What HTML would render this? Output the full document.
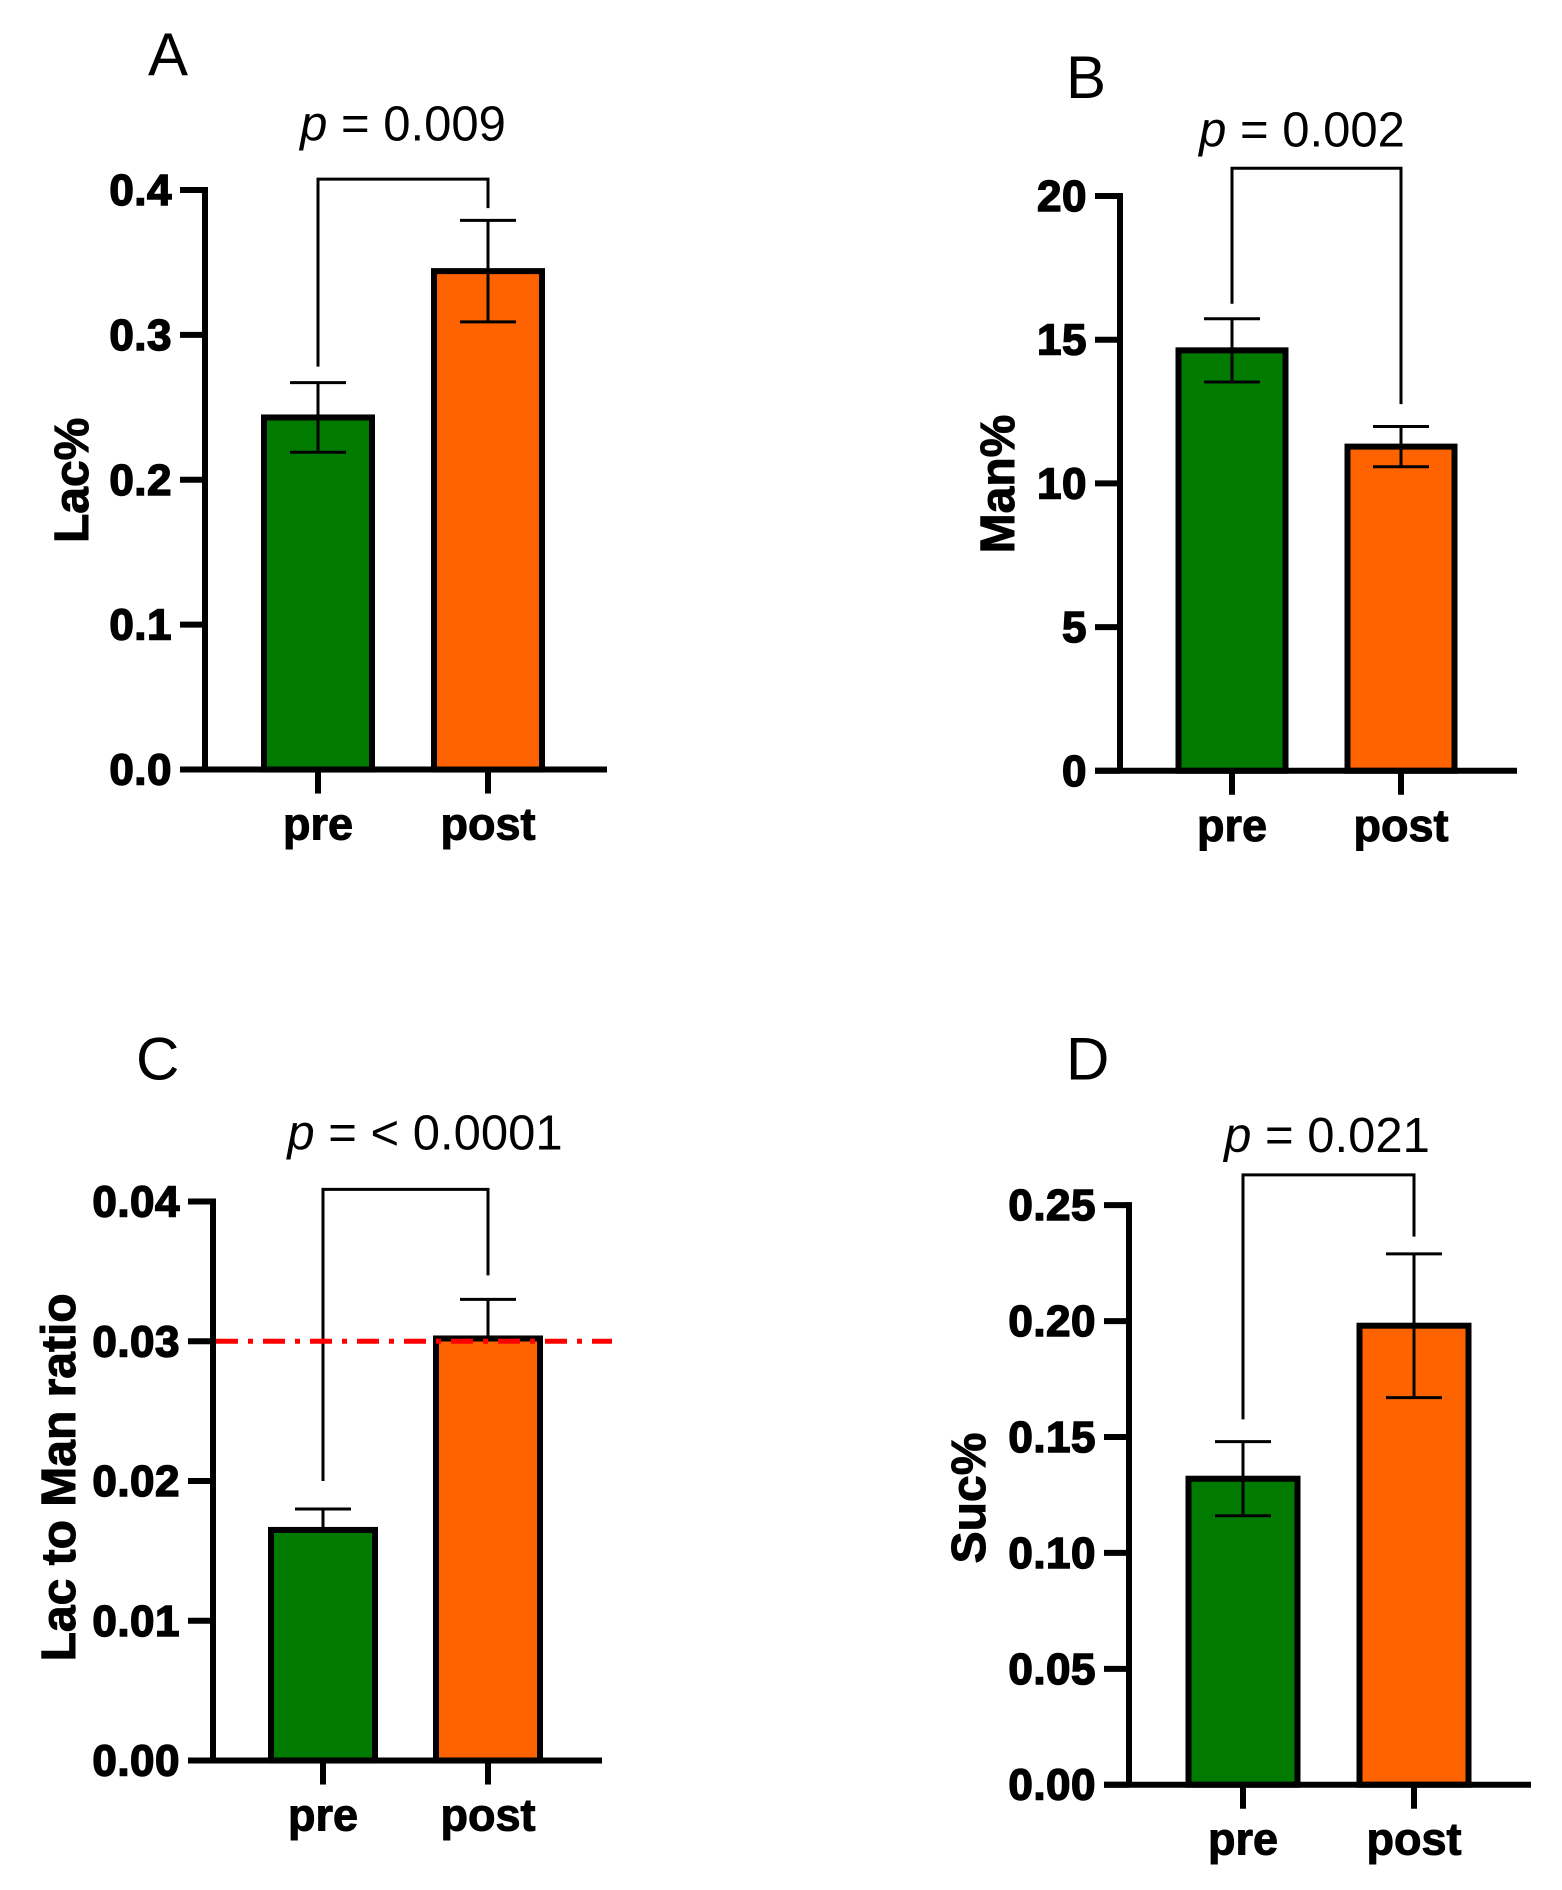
<!DOCTYPE html>
<html><head><meta charset="utf-8"><style>
html,body{margin:0;padding:0;background:#fff}
svg{display:block}
text{font-family:"Liberation Sans",Arial,sans-serif}
</style></head>
<body>
<svg id="fig" width="1562" height="1890" viewBox="0 0 1562 1890" xmlns="http://www.w3.org/2000/svg"><g id="root"></g></svg>
<script>
const categories = ["pre", "post"];
const lacValues = [0.243, 0.344];
const lacErrors = [0.024, 0.035];
const lacTicks = ["0.0", "0.1", "0.2", "0.3", "0.4"];
const manValues = [14.63, 11.28];
const manErrors = [1.1, 0.7];
const manTicks = ["0", "5", "10", "15", "20"];
const ratioValues = [0.0165, 0.0302];
const ratioErrors = [0.0015, 0.0028];
const ratioTicks = ["0.00", "0.01", "0.02", "0.03", "0.04"];
const ratioRefLine = [0.03];
const sucValues = [0.132, 0.198];
const sucErrors = [0.016, 0.031];
const sucTicks = ["0.00", "0.05", "0.10", "0.15", "0.20", "0.25"];
const pLabels = ["= 0.009", "= 0.002", "= < 0.0001", "= 0.021"];

const NS = "http://www.w3.org/2000/svg";
const svg = document.getElementById("root");
const colors = ["#007a00", "#ff6300"];
const SY = 1.21;
function mk(tag, attrs, parent) {
  const e = document.createElementNS(NS, tag);
  for (const k in attrs) e.setAttribute(k, attrs[k]);
  (parent || svg).appendChild(e);
  return e;
}

function panel(c) {
  const cfg = Object.assign({}, c);
  const off = c.off || 0;
  ["letterY","y0","yTop","ytY","bTop","bL","bR","pY"].forEach(k => cfg[k] = off + (c[k] - off) * SY);
  const g = mk("g", {});
  
  
  const yMax = parseFloat(cfg.ticks[cfg.ticks.length - 1]);
  const y = v => cfg.y0 - (v / yMax) * (cfg.y0 - cfg.yTop);
  const L = mk("text", {x: cfg.letterX, y: cfg.letterY, "font-size": 60}, g);
  L.textContent = cfg.letter;
  
  
  cfg.values.forEach((v, i) => {
    const cx = cfg.cx[i], hw = cfg.barW / 2;
    const r = mk("rect", {x: cx - hw, y: y(v), width: cfg.barW, height: cfg.y0 - y(v), fill: colors[i], stroke: "#000", "stroke-width": 6}, g);
    
    
    const e = cfg.errors[i];
    const eg = mk("g", {stroke: "#000", "stroke-width": 3}, g);
    
    
    mk("line", {x1: cx, x2: cx, y1: y(v + e), y2: cfg.hideLower ? y(v) : y(v - e)}, eg);
    mk("line", {x1: cx - 28, x2: cx + 28, y1: y(v + e), y2: y(v + e)}, eg);
    if (!cfg.hideLower) mk("line", {x1: cx - 28, x2: cx + 28, y1: y(v - e), y2: y(v - e)}, eg);
  });
  const ax = mk("g", {stroke: "#000", "stroke-width": 6}, g);
  
  
  mk("line", {x1: cfg.ax, x2: cfg.ax, y1: cfg.yTop - 3, y2: cfg.y0}, ax);
  mk("line", {x1: cfg.ax - 25, x2: cfg.xEnd, y1: cfg.y0, y2: cfg.y0}, ax);
  cfg.ticks.forEach(t => {
    const ty = y(parseFloat(t));
    mk("line", {x1: cfg.ax - 25, x2: cfg.ax, y1: ty, y2: ty}, ax);
    const tl = mk("text", {x: cfg.ax - 33, y: ty + 15, "font-size": 44, "font-weight": "bold", "text-anchor": "end", "letter-spacing": 0.5, stroke: "#000", "stroke-width": 1.5}, g);
    tl.textContent = t;
    
    
  });
  categories.forEach((c, i) => {
    mk("line", {x1: cfg.cx[i], x2: cfg.cx[i], y1: cfg.y0, y2: cfg.y0 + 24}, ax);
    const xl = mk("text", {x: cfg.cx[i], y: cfg.y0 + 70, "font-size": 45, "font-weight": "bold", "text-anchor": "middle", stroke: "#000", "stroke-width": 1}, g);
    xl.textContent = c;
    
    
  });
  const yt = mk("text", {x: 0, y: 0, "font-size": 48, "font-weight": "bold", "text-anchor": "middle", stroke: "#000", "stroke-width": 1, transform: `translate(${cfg.ytX},${cfg.ytY}) rotate(-90)`}, g);
  yt.textContent = cfg.ytitle;
  
  
  const b = mk("polyline", {points: `${cfg.cx[0]},${cfg.bL} ${cfg.cx[0]},${cfg.bTop} ${cfg.cx[1]},${cfg.bTop} ${cfg.cx[1]},${cfg.bR}`, fill: "none", stroke: "#000", "stroke-width": 3}, g);
  
  
  const pt = mk("text", {x: cfg.pX, y: cfg.pY, "font-size": 49, "text-anchor": "middle"}, g);
  
  
  const ts = mk("tspan", {"font-style": "italic"}, pt); ts.textContent = "p ";
  const ts2 = mk("tspan", {}, pt); ts2.textContent = cfg.p;
  if (cfg.ref) {
    cfg.ref.forEach(rv => {
      const rl = mk("line", {x1: cfg.ax + 3, x2: 612, y1: y(rv), y2: y(rv), stroke: "#ff0000", "stroke-width": 5, "stroke-dasharray": "22 10 5 10"}, g);
      
      
    });
  }
}

panel({letter: "A", letterX: 148, letterY: 62, values: lacValues, errors: lacErrors, ticks: lacTicks,
  ax: 205, y0: 636, yTop: 157, xEnd: 607, cx: [318, 488], barW: 108, ytitle: "Lac%", ytX: 88, ytY: 397,
  bTop: 148, bL: 303, bR: 172, pX: 403, pY: 116, p: pLabels[0]});
panel({letter: "B", letterX: 1066, letterY: 81, values: manValues, errors: manErrors, ticks: manTicks,
  ax: 1120, y0: 637, yTop: 162, xEnd: 1517, cx: [1232, 1401], barW: 107, ytitle: "Man%", ytX: 1014, ytY: 400,
  bTop: 139, bL: 251, bR: 334, pX: 1302, pY: 121, p: pLabels[1]});
panel({off: 945, letter: "C", letterX: 136, letterY: 1056, values: ratioValues, errors: ratioErrors, ticks: ratioTicks,
  ax: 213, y0: 1619, yTop: 1157, xEnd: 602, cx: [323, 488], barW: 104, ytitle: "Lac to Man ratio", ytX: 75, ytY: 1385,
  bTop: 1147, bL: 1388, bR: 1218, pX: 425, pY: 1114, p: pLabels[2], ref: ratioRefLine, hideLower: true});
panel({off: 945, letter: "D", letterX: 1066, letterY: 1056, values: sucValues, errors: sucErrors, ticks: sucTicks,
  ax: 1129, y0: 1639, yTop: 1160, xEnd: 1531, cx: [1243, 1414], barW: 109, ytitle: "Suc%", ytX: 985, ytY: 1402,
  bTop: 1135, bL: 1337, bR: 1186, pX: 1327, pY: 1116, p: pLabels[3]});
</script>
</body></html>
